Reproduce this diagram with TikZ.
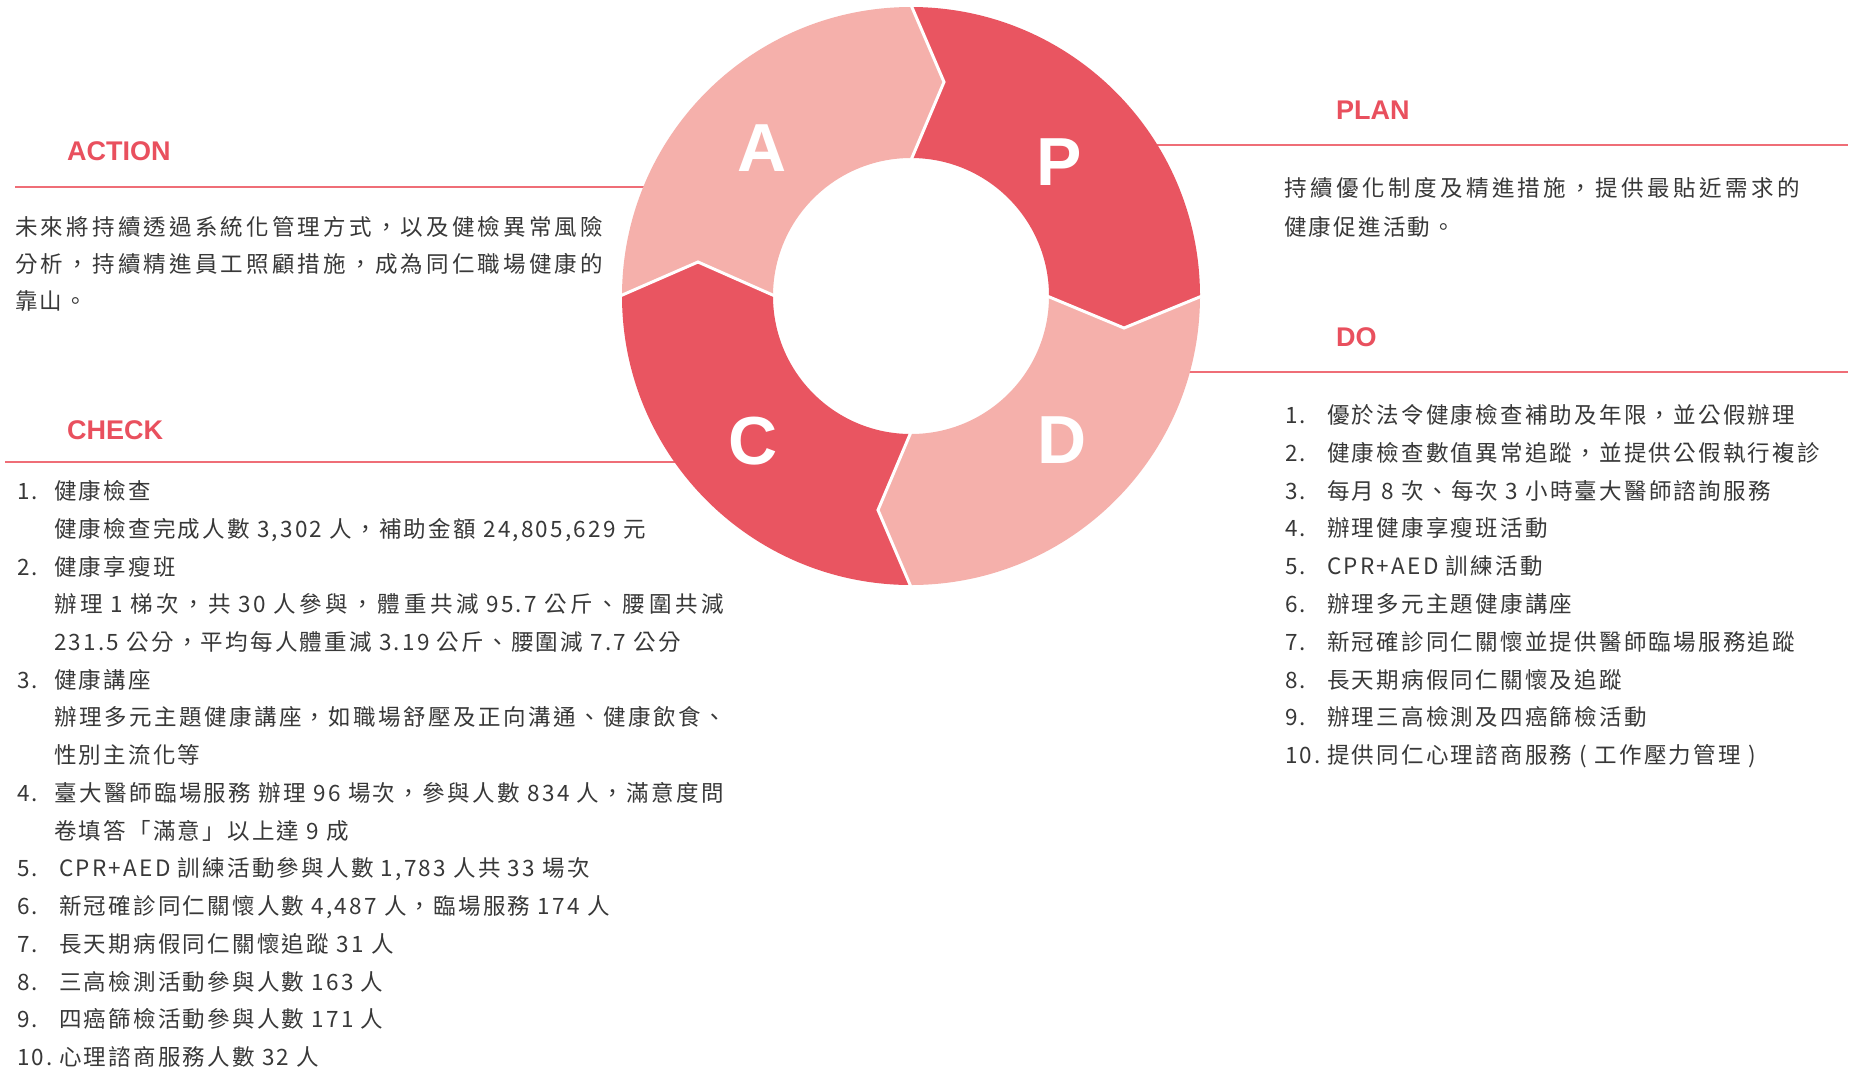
\documentclass[tikz,border=0pt]{standalone}
\usepackage{fontspec}
\newfontfamily\cjk[LetterSpace=10]{Noto Sans CJK TC}
\newfontfamily\headfont{Liberation Sans}
\definecolor{dred}{HTML}{E95561}
\definecolor{lpink}{HTML}{F5B0AB}
\definecolor{hred}{HTML}{E9505E}
\definecolor{lred}{HTML}{EF6E77}
\definecolor{txt}{HTML}{383838}
% glue between CJK characters (restores the tracking, and can stretch to justify wrapped lines)
\XeTeXinterchartokenstate=1
\newcount\cjkcnt
\cjkcnt="4E00
\loop \XeTeXcharclass\cjkcnt=10 \advance\cjkcnt by 1 \ifnum\cjkcnt<"A000 \repeat
\XeTeXcharclass"FF0C=10 \XeTeXcharclass"3001=10 \XeTeXcharclass"3002=10
\XeTeXcharclass"300C=10 \XeTeXcharclass"300D=10
\XeTeXinterchartoks 10 10 = {\hskip 0.1em plus 1fil minus 0.05em\relax}
\newcommand{\jline}[2]{\makebox[#1][s]{#2}}
\tikzset{
  body/.style={anchor=base west, inner sep=0pt, font=\cjk\fontsize{22.5}{27}\selectfont, text=txt},
  head/.style={anchor=base west, inner sep=0pt, font=\headfont\bfseries\fontsize{27}{30}\selectfont, text=hred},
  bigletter/.style={anchor=base, inner sep=0pt, font=\headfont\bfseries\fontsize{68}{70}\selectfont, text=white},
  rule/.style={draw=lred, line width=1.5pt},
  sep/.style={draw=white, line width=3pt, line join=miter},
}
\begin{document}
\begin{tikzpicture}[x=1pt,y=1pt]
\fill[white] (0,0) rectangle (1854,-1069);
\path[use as bounding box] (0,0) rectangle (1854,-1069);

% rules
\coordinate (ra1) at (15,-187);  \coordinate (ra2) at (700,-187);
\coordinate (rp1) at (1140,-145); \coordinate (rp2) at (1848,-145);
\coordinate (rd1) at (1150,-372); \coordinate (rd2) at (1848,-372);
\coordinate (rc1) at (5,-462);   \coordinate (rc2) at (700,-462);
\draw[rule] (ra1) -- (ra2);
\draw[rule] (rp1) -- (rp2);
\draw[rule] (rd1) -- (rd2);
\draw[rule] (rc1) -- (rc2);

% ring segments
\fill[dred] (911,-7) arc[start angle=90,end angle=0,radius=289] -- (1124,-328) -- (1049,-296) arc[start angle=0,end angle=90,radius=138] -- (944,-82) -- cycle;
\fill[lpink] (1200,-296) arc[start angle=0,end angle=-90,radius=289] -- (878,-510) -- (911,-434) arc[start angle=-90,end angle=0,radius=138] -- (1124,-328) -- cycle;
\fill[dred] (911,-585) arc[start angle=-90,end angle=-180,radius=289] -- (698,-262) -- (773,-296) arc[start angle=180,end angle=270,radius=138] -- (878,-510) -- cycle;
\fill[lpink] (622,-296) arc[start angle=180,end angle=90,radius=289] -- (944,-82) -- (911,-158) arc[start angle=90,end angle=180,radius=138] -- (698,-262) -- cycle;
\draw[sep] (911,-5) -- (944,-82) -- (911,-160);
\draw[sep] (1202,-296) -- (1124,-328) -- (1047,-296);
\draw[sep] (911,-587) -- (878,-510) -- (911,-432);
\draw[sep] (620,-296) -- (698,-262) -- (775,-296);

\node[bigletter] (LA) at (761.7,-171) {A};
\node[bigletter] (LP) at (1059.6,-185.6) {P};
\node[bigletter] (LC) at (752.6,-464) {C};
\node[bigletter] (LD) at (1061.6,-463) {D};

% headers
\node[head] (hA) at (67,-160) {ACTION};
\node[head] (hP) at (1336,-119) {PLAN};
\node[head] (hD) at (1336,-346) {DO};
\node[head] (hC) at (67,-439.3) {CHECK};

% ACTION text
\node[body] (a1) at (15,-235) {\jline{588pt}{未來將持續透過系統化管理方式，以及健檢異常風險}};
\node[body] (a2) at (15,-272) {\jline{588pt}{分析，持續精進員工照顧措施，成為同仁職場健康的}};
\node[body] (a3) at (15,-309) {靠山。};

% PLAN text
\node[body] (p1) at (1284,-196.5) {\jline{516pt}{持續優化制度及精進措施，提供最貼近需求的}};
\node[body] (p2) at (1284,-235.5) {健康促進活動。};

% DO list
\node[body] (dn1) at (1285,-423.5) {1.};  \node[body] (dt1) at (1327,-423.5) {優於法令健康檢查補助及年限，並公假辦理};
\node[body] (dn2) at (1285,-461.3) {2.};  \node[body] (dt2) at (1327,-461.3) {健康檢查數值異常追蹤，並提供公假執行複診};
\node[body] (dn3) at (1285,-499.1) {3.};  \node[body] (dt3) at (1327,-499.1) {每月 8 次、每次 3 小時臺大醫師諮詢服務};
\node[body] (dn4) at (1285,-536.9) {4.};  \node[body] (dt4) at (1327,-536.9) {辦理健康享瘦班活動};
\node[body] (dn5) at (1285,-574.7) {5.};  \node[body] (dt5) at (1327,-574.7) {CPR+AED 訓練活動};
\node[body] (dn6) at (1285,-612.5) {6.};  \node[body] (dt6) at (1327,-612.5) {辦理多元主題健康講座};
\node[body] (dn7) at (1285,-650.3) {7.};  \node[body] (dt7) at (1327,-650.3) {新冠確診同仁關懷並提供醫師臨場服務追蹤};
\node[body] (dn8) at (1285,-688.1) {8.};  \node[body] (dt8) at (1327,-688.1) {長天期病假同仁關懷及追蹤};
\node[body] (dn9) at (1285,-725.9) {9.};  \node[body] (dt9) at (1327,-725.9) {辦理三高檢測及四癌篩檢活動};
\node[body] (dn10) at (1285,-763.7) {10.}; \node[body] (dt10) at (1327,-763.7) {提供同仁心理諮商服務 ( 工作壓力管理 )};

% CHECK list
\node[body] (cn1) at (17,-499.5) {1.}; \node[body] (ct1) at (54,-499.5) {健康檢查};
\node[body] (cs1) at (54,-537.2) {健康檢查完成人數 3,302 人，補助金額 24,805,629 元};
\node[body] (cn2) at (17,-575) {2.}; \node[body] (ct2) at (54,-575) {健康享瘦班};
\node[body] (cs2a) at (54,-612.7) {\jline{670pt}{辦理 1 梯次，共 30 人參與，體重共減 95.7 公斤、腰圍共減}};
\node[body] (cs2b) at (54,-650.4) {231.5 公分，平均每人體重減 3.19 公斤、腰圍減 7.7 公分};
\node[body] (cn3) at (17,-688.2) {3.}; \node[body] (ct3) at (54,-688.2) {健康講座};
\node[body] (cs3a) at (54,-725.9) {\jline{672pt}{辦理多元主題健康講座，如職場舒壓及正向溝通、健康飲食、}};
\node[body] (cs3b) at (54,-763.6) {性別主流化等};
\node[body] (cn4) at (17,-801.3) {4.}; \node[body] (ct4) at (54,-801.3) {\jline{670pt}{臺大醫師臨場服務 辦理 96 場次，參與人數 834 人，滿意度問}};
\node[body] (cs4) at (54,-839.1) {卷填答「滿意」以上達 9 成};
\node[body] (cn5) at (17,-876.8) {5.}; \node[body] (ct5) at (59,-876.8) {CPR+AED 訓練活動參與人數 1,783 人共 33 場次};
\node[body] (cn6) at (17,-914.5) {6.}; \node[body] (ct6) at (59,-914.5) {新冠確診同仁關懷人數 4,487 人，臨場服務 174 人};
\node[body] (cn7) at (17,-952.3) {7.}; \node[body] (ct7) at (59,-952.3) {長天期病假同仁關懷追蹤 31 人};
\node[body] (cn8) at (17,-990) {8.}; \node[body] (ct8) at (59,-990) {三高檢測活動參與人數 163 人};
\node[body] (cn9) at (17,-1027.7) {9.}; \node[body] (ct9) at (59,-1027.7) {四癌篩檢活動參與人數 171 人};
\node[body] (cn10) at (17,-1065.5) {10.}; \node[body] (ct10) at (59,-1065.5) {心理諮商服務人數 32 人};
\end{tikzpicture}
\end{document}
